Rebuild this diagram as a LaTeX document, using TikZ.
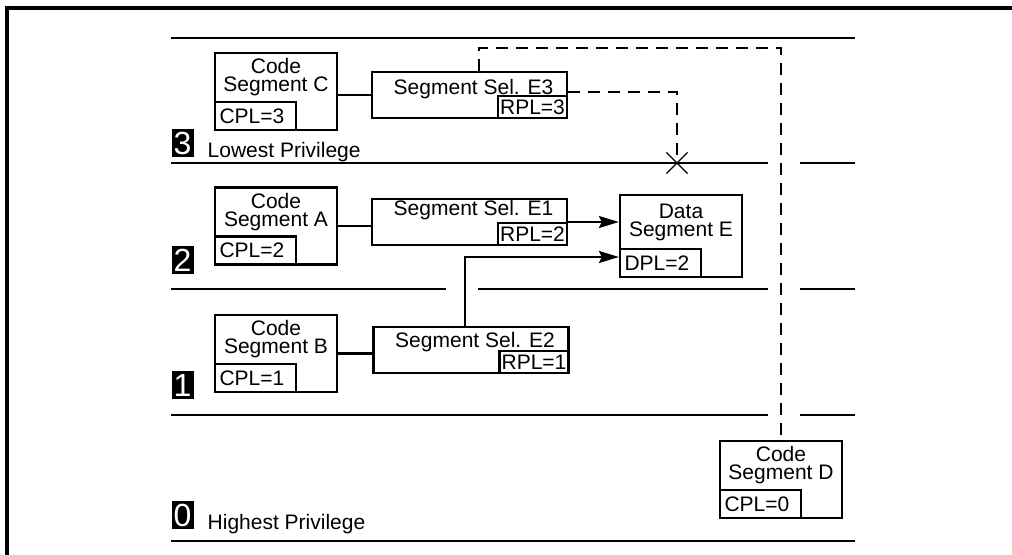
\documentclass[tikz,border=0pt]{standalone}
\usepackage{fontspec}
\setmainfont{Liberation Sans}
\usetikzlibrary{calc}
\usetikzlibrary{arrows.meta}
\usetikzlibrary{shapes.misc}
\usetikzlibrary{positioning}

\begin{document}
\begin{tikzpicture}[x=0.5pt,y=-0.5pt,line width=1.1pt,
        every node/.style={font=\fontsize{10.5}{9}\selectfont, inner sep=0pt},
        segbox/.style={draw, minimum width=61pt, minimum height=38.5pt},
        selbox/.style={draw, minimum width=97.5pt, minimum height=23pt},
        plbox/.style={draw, minimum width=40.5pt, minimum height=14pt, text width=36pt, align=left},
        rplbox/.style={draw, minimum width=34.5pt, minimum height=11pt},
        ringbox/.style={fill=black, text=white, font=\fontsize{16}{16}\selectfont, minimum width=11pt, minimum height=14pt},
        arr/.style={-{Stealth[length=10pt, width=6pt, inset=1.5pt]}},
        dashline/.style={dash pattern=on 6pt off 4pt}]
        \def\xl{171}
        \def\xr{855}
        \def\ga{768}
        \def\gb{800}
        \def\gc{446}
        \def\gd{478}

        \useasboundingbox (0,0) rectangle (1012,555);
        \draw[line width=1.6pt] (1012,8) -- (7,8) -- (7,555);

        % Ring borders
        \draw (\xl,38) -- (\xr,38);
        \draw (\xl,541) -- (\xr,541);
        \foreach \y in {163,415}
            \draw (\xl,\y) -- (\ga,\y) (\gb,\y) -- (\xr,\y);
        \draw (\xl,289) -- (\gc,289) (\gd,289) -- (\ga,289) (\gb,289) -- (\xr,289);

        % Ring numbers
        \node[ringbox] (r3) at (182.5,143) {3};
        \node[ringbox] (r2) at (182.5,260.5) {2};
        \node[ringbox] (r1) at (182.5,385.5) {1};
        \node[ringbox] (r0) at (182.5,515) {0};
        \node[right=6pt of r3.south east, anchor=base west, yshift=0.5pt] (low) {Lowest Privilege};
        \node[right=6pt of r0.south east, anchor=base west, yshift=0.5pt] (high) {Highest Privilege};

        % Code segments
        \foreach \n/\x/\y/\c in {C/276/91.5/3, A/276/226/2, B/276/353.5/1, D/781/479.5/0} {
            \node[segbox] (\n) at (\x,\y) {};
            \node[plbox, anchor=south west] (\n-pl) at (\n.south west) {CPL=\c};
            \node[align=center] (\n-t) at ($(\n.center)+(0,-14)$) {Code\\Segment \n};
        }

        % Data segment
        \node[segbox, minimum height=41pt] (DE) at (681,236) {};
        \node[plbox, anchor=south west] (DE-pl) at (DE.south west) {DPL=2};
        \node[align=center] (DE-t) at ($(DE.center)+(0,-14)$) {Data\\Segment E};

        % Selectors
        \foreach \n/\x/\y/\r/\s in {E3/469.5/95/3/0, E1/469.5/222/2/3, E2/471/350/1/1} {
            \node[selbox] (\n) at (\x,\y) {};
            \node[rplbox, anchor=south east] (\n-rpl) at (\n.south east) {RPL=\r};
            \node[anchor=base, xshift=2pt, yshift=\s pt] (\n-t) at (\n.center) {Segment Sel. \n};
        }

        \draw (C.east |- E3.west) -- (E3.west);
        \draw (A.east) -- (A.east -| E1.west);
        \draw (B.east) -- (B.east -| E2.west);

        % Accesses
        \draw[arr] (E1.east) -- (E1.east -| DE.west);
        \draw[arr] ([xshift=-3pt]E2.north) |- ([yshift=-10.5pt]DE.west);

        \node[cross out, draw, line width=0.6pt, minimum size=10pt] (X) at (677,163) {};
        \coordinate (top) at (0,48);
        \draw[dashline] ([yshift=1.5pt]E3.east) -| (X.center);
        \draw[dashline] ([xshift=4.75pt]E3.north) |- (D.north |- top) -- (D.north);
\end{tikzpicture}
\end{document}
